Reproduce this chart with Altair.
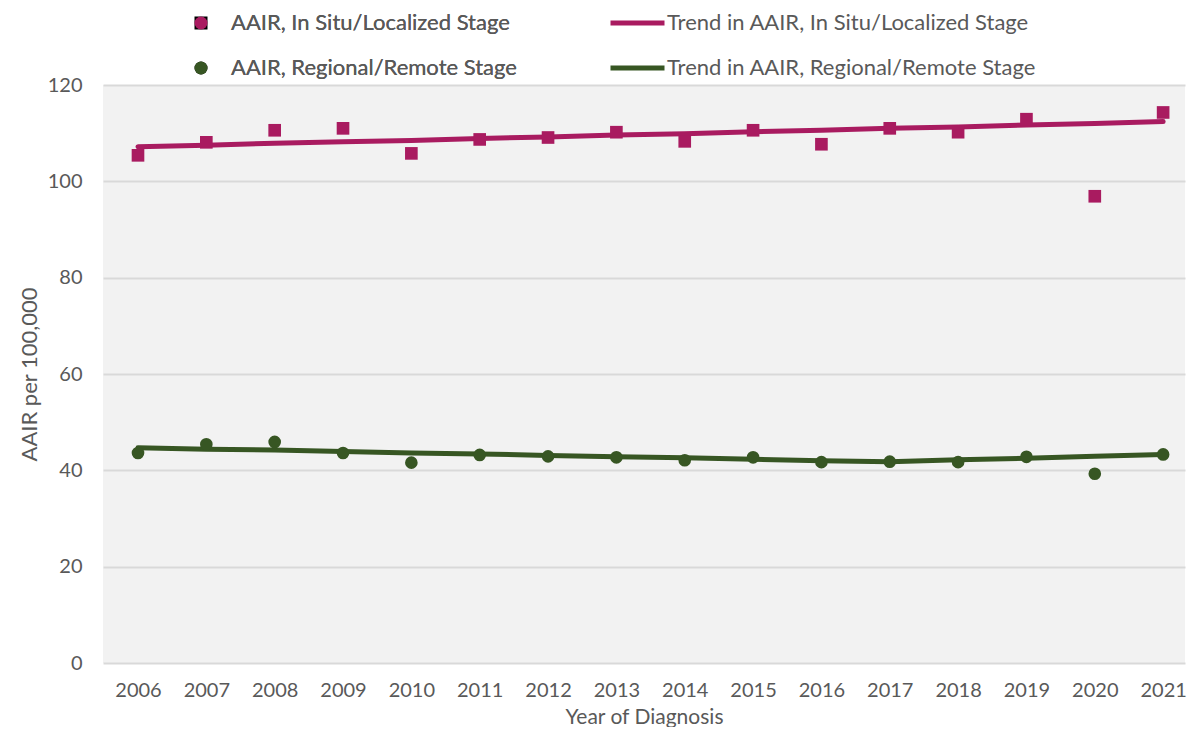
import altair as alt
import pandas as pd

years = list(range(2006, 2022))
insitu_aair = [105.4, 108.1, 110.6, 111.0, 105.8, 108.7, 109.1, 110.2, 108.3, 110.6, 107.7, 111.0, 110.2, 112.9, 96.9, 114.3]
insitu_trend = [107.2, 107.5, 107.9, 108.2, 108.5, 108.9, 109.2, 109.6, 109.9, 110.3, 110.6, 111.0, 111.3, 111.7, 112.0, 112.4]
regional_aair = [43.6, 45.4, 45.9, 43.6, 41.6, 43.2, 42.9, 42.7, 42.1, 42.7, 41.7, 41.8, 41.7, 42.8, 39.3, 43.3]
regional_trend = [44.7, 44.4, 44.2, 43.9, 43.6, 43.4, 43.1, 42.8, 42.6, 42.3, 42.0, 41.8, 42.2, 42.5, 42.9, 43.3]

pt_names = ["AAIR, In Situ/Localized Stage", "AAIR, Regional/Remote Stage"]
tr_names = ["Trend in AAIR, In Situ/Localized Stage", "Trend in AAIR, Regional/Remote Stage"]
colors = ["#A91B60", "#375623"]

pts = pd.DataFrame({
    "year": years * 2,
    "value": insitu_aair + regional_aair,
    "series": [pt_names[0]] * 16 + [pt_names[1]] * 16,
})
trd = pd.DataFrame({
    "year": years * 2,
    "value": insitu_trend + regional_trend,
    "trend": [tr_names[0]] * 16 + [tr_names[1]] * 16,
})

FONT = "Lato"
TXT = "#595959"

x = alt.X("year:Q", title="Year of Diagnosis",
          scale=alt.Scale(domain=[2005.488, 2021.32], nice=False, zero=False),
          axis=alt.Axis(values=years, format="d", grid=False, domain=False, ticks=False,
                        labelPadding=17, titleY=64, titleBaseline="bottom",
                        labelFontSize=20, titleFontSize=21,
                        labelColor=TXT, titleColor=TXT, labelFont=FONT, titleFont=FONT,
                        titleFontWeight="normal", labelFlush=False))
y = alt.Y("value:Q", title="AAIR per 100,000",
          scale=alt.Scale(domain=[0, 120], nice=False),
          axis=alt.Axis(values=[0, 20, 40, 60, 80, 100, 120], grid=True, gridColor="#D9D9D9",
                        gridWidth=2, domain=False, ticks=False, labelPadding=21,
                        titlePadding=6, labelFontSize=20, titleFontSize=22,
                        labelColor=TXT, titleColor=TXT, labelFont=FONT, titleFont=FONT,
                        titleFontWeight="normal"))

line_legend = alt.Legend(title=None, orient="none", legendX=505, legendY=-77,
                         symbolType="stroke", symbolSize=2916, symbolStrokeWidth=5,
                         labelOffset=0, labelFontSize=22, labelFont=FONT, labelLimit=0,
                         labelFontWeight="normal",
                         labelColor=TXT, rowPadding=15, padding=0, clipHeight=30)
pt_legend = alt.Legend(title=None, orient="none", legendX=87, legendY=-77,
                       symbolSize=169, labelOffset=19, labelFontSize=22, labelLimit=0,
                       labelFont=FONT, labelColor=TXT, rowPadding=15, labelFontWeight="normal",
                       padding=0, clipHeight=30, symbolOpacity=1, symbolStrokeWidth=0)

lines = alt.Chart(trd).mark_line(strokeWidth=5, strokeCap="round").encode(
    x=x, y=y,
    color=alt.Color("trend:N", scale=alt.Scale(domain=tr_names, range=colors), legend=line_legend),
)
points = alt.Chart(pts).mark_point(filled=True, opacity=1).encode(
    x=x, y=y,
    color=alt.Color("series:N", scale=alt.Scale(domain=pt_names, range=colors), legend=pt_legend),
    shape=alt.Shape("series:N", scale=alt.Scale(domain=pt_names, range=["square", "circle"]),
                    legend=pt_legend),
    size=alt.value(160),
)

chart = alt.layer(lines, points).resolve_scale(color="independent").properties(
    width=1082, height=578,
    autosize=alt.AutoSizeParams(type="none"),
    padding={"left": 95, "top": 77, "right": 2, "bottom": 64},
    background="white",
).configure_view(fill="#F2F2F2", stroke=None)

chart.save("out.html", embed_options={"renderer": "svg", "actions": False})
